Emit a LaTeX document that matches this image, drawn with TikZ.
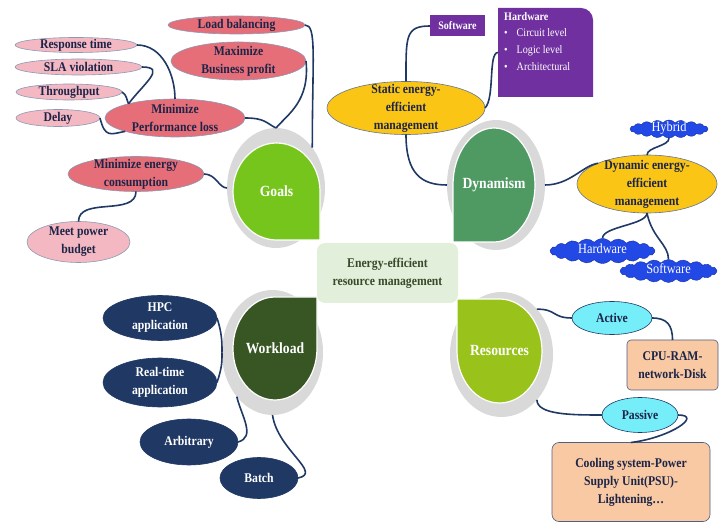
\documentclass[tikz,border=0pt]{standalone}
\usepackage{fontspec}
\setmainfont{Liberation Serif}[FakeStretch=0.88]
\usepackage{xcolor}
\definecolor{cNavy}{HTML}{1F3864}
\definecolor{cInk}{HTML}{1C2448}
\definecolor{cEdge}{HTML}{8A9AB4}
\definecolor{cRose}{HTML}{E66E78}
\definecolor{cPink}{HTML}{F4B8C2}
\definecolor{cYellow}{HTML}{FAC515}
\definecolor{cPurple}{HTML}{7030A0}
\definecolor{cBlue}{HTML}{2248E6}
\definecolor{cCyan}{HTML}{75EEFA}
\definecolor{cTan}{HTML}{F8C9A2}
\definecolor{cHalo}{HTML}{D9D9D9}
\definecolor{cCore}{HTML}{E2EFDA}
\definecolor{cCoreText}{HTML}{3A4A2C}
\definecolor{cGoals}{HTML}{75C51C}
\definecolor{cDyn}{HTML}{4F9A63}
\definecolor{cWork}{HTML}{375623}
\definecolor{cRes}{HTML}{99C31A}
\usepackage{tikz}
\usetikzlibrary{positioning,calc,shapes.geometric,shapes.symbols,backgrounds}
\tikzset{
  node-core/.style={rectangle,rounded corners=8pt,fill=cCore,text=cCoreText,
    inner sep=0pt,align=center,font=\fontsize{13.3}{18}\selectfont\bfseries},
  node-petal/.style={rectangle,inner sep=0pt,outer sep=0pt,text=white,
    font=\fontsize{15.5}{17}\selectfont\bfseries},
  node-halo/.style={ellipse,fill=cHalo,inner sep=0pt,outer sep=0pt},
  petal/.style={draw=white,line width=1.2pt},
  node-oval/.style={ellipse,inner xsep=-7pt,inner ysep=-7pt,outer sep=0pt,
    align=center,text=cInk,line width=0.6pt,
    font=\fontsize{13.3}{18}\selectfont\bfseries},
  node-goal/.style={node-oval,draw=cEdge,fill=cRose},
  node-goal-sub/.style={node-oval,draw=cEdge,fill=cPink},
  node-dyn/.style={node-oval,draw=cNavy!70,fill=cYellow},
  node-work/.style={node-oval,draw=cNavy,fill=cNavy,text=white},
  node-res/.style={node-oval,draw=cNavy,fill=cCyan},
  node-box/.style={rectangle,inner sep=0pt,outer sep=0pt,align=center,
    text=cInk,font=\fontsize{13.3}{18}\selectfont\bfseries},
  node-tan/.style={node-box,draw=cNavy!80,line width=0.6pt,fill=cTan,
    rounded corners=4pt},
  node-purple/.style={node-box,fill=cPurple,text=white,
    font=\fontsize{11.4}{12}\selectfont\bfseries},
  node-cloud/.style={cloud,cloud puffs=20,cloud puff arc=100,cloud ignores aspect,
    fill=cBlue,draw=cBlue!70!black,line width=0.4pt,inner sep=0pt,text=white,
    text height=7pt,text depth=1pt,font=\fontsize{14}{14}\selectfont},
  link/.style={line width=1.6pt,draw=cNavy},
}

\begin{document}
\begin{tikzpicture}[x=1pt,y=1pt]
  \useasboundingbox (0,0) rectangle (720,525);
  \node[node-core,minimum width=141pt,minimum height=60pt] (core) at (387.5,252)
    {Energy-efficient\\resource management};

  % petals
  \node[node-petal,minimum width=87pt,minimum height=97pt] (goals) at (276.5,333.5) {Goals};
  \node[node-petal,minimum width=82pt,minimum height=114pt] (dyn) at (494,340) {Dynamism};
  \node[node-petal,minimum width=84pt,minimum height=103pt] (work) at (275,176.5) {Workload};
  \node[node-petal,minimum width=85pt,minimum height=104pt] (res) at (499.5,174) {Resources};
  \begin{scope}[on background layer]
    \node[node-halo,minimum width=98pt,minimum height=120pt] (hgoals) at (276,337) {};
    \node[node-halo,minimum width=98pt,minimum height=130pt] (hdyn) at (496,340) {};
    \node[node-halo,minimum width=101pt,minimum height=125pt] (hwork) at (272.5,172.5) {};
    \node[node-halo,minimum width=103pt,minimum height=125pt] (hres) at (501.5,170.5) {};
    \filldraw[petal,fill=cGoals] (goals.east) arc[start angle=0,end angle=270,x radius=43.5pt,y radius=48.5pt]
      -- (goals.east |- goals.south) -- cycle;
    \filldraw[petal,fill=cDyn] (dyn.south) arc[start angle=270,end angle=540,x radius=41pt,y radius=57pt]
      -- (dyn.west |- dyn.south) -- cycle;
    \filldraw[petal,fill=cWork] (work.north) arc[start angle=90,end angle=360,x radius=42pt,y radius=51.5pt]
      -- (work.east |- work.north) -- cycle;
    \filldraw[petal,fill=cRes] (res.west) arc[start angle=180,end angle=450,x radius=42.5pt,y radius=52pt]
      -- (res.west |- res.north) -- cycle;
  \end{scope}

  % goals
  \node[node-goal,minimum width=137pt,minimum height=18pt] (load) at (236.5,500) {Load balancing};
  \node[node-goal,minimum width=135pt,minimum height=38pt] (profit) at (238.5,464) {Maximize\\Business profit};
  \node[node-goal-sub,minimum width=122pt,minimum height=15pt] (resp) at (76,480) {Response time};
  \node[node-goal-sub,minimum width=127pt,minimum height=16pt] (sla) at (78.5,458) {SLA violation};
  \node[node-goal-sub,minimum width=106pt,minimum height=16pt] (thru) at (69,433) {Throughput};
  \node[node-goal-sub,minimum width=84pt,minimum height=17pt] (delay) at (58,407) {Delay};
  \node[node-goal,minimum width=140pt,minimum height=38pt] (perf) at (175,407) {Minimize\\Performance loss};
  \node[node-goal,minimum width=136pt,minimum height=35pt] (energy) at (136,351) {Minimize energy\\consumption};
  \node[node-goal-sub,minimum width=103pt,minimum height=41pt] (power) at (78.5,283) {Meet power\\budget};

  % dynamism
  \node[node-dyn,minimum width=158pt,minimum height=53pt] (static) at (406,417) {Static energy-\\efficient\\management};
  \node[node-purple,minimum width=55pt,minimum height=21pt] (soft) at (457.5,499) {Software};
  \node[node-box,minimum width=95pt,minimum height=89pt] (hw) at (545.5,472.5) {};
  \fill[cPurple] (hw.south west) -- (hw.north west) -- ($(hw.north east)+(-12,0)$)
    arc[start angle=90,end angle=0,radius=12pt] -- (hw.south east) -- cycle;
  \node[anchor=north west,align=left,text=white,inner sep=0pt,
    font=\fontsize{11.5}{16.7}\selectfont] (hwtext) at ($(hw.north west)+(6,-4)$)
    {{\bfseries Hardware}\\
     \textbullet\hspace{9pt}Circuit level\\
     \textbullet\hspace{9pt}Logic level\\
     \textbullet\hspace{9pt}Architectural};
  \node[node-dyn,minimum width=140pt,minimum height=58pt] (dynamic) at (647,341) {Dynamic energy-\\efficient\\management};
  \node[node-cloud,minimum width=78pt,minimum height=18pt] (hybrid) at (669,396) {Hybrid};
  \node[node-cloud,minimum width=105pt,minimum height=25pt] (hwcloud) at (602.5,274) {Hardware};
  \node[node-cloud,minimum width=97pt,minimum height=23pt] (swcloud) at (668.5,254) {Software};

  % workload
  \node[node-work,minimum width=114pt,minimum height=45pt] (hpc) at (160,207) {HPC\\application};
  \node[node-work,minimum width=114pt,minimum height=49pt] (realtime) at (160,142.5) {Real-time\\application};
  \node[node-work,minimum width=98pt,minimum height=46pt] (arbitrary) at (189,83) {Arbitrary};
  \node[node-work,minimum width=78pt,minimum height=41pt] (batch) at (259,47) {Batch};

  % resources
  \node[node-res,minimum width=80pt,minimum height=33pt] (active) at (612,207) {Active};
  \node[node-tan,minimum width=91pt,minimum height=50pt] (cpu) at (672.5,160) {CPU-RAM-\\network-Disk};
  \node[node-res,minimum width=76pt,minimum height=35pt] (passive) at (640,110) {Passive};
  \node[node-tan,minimum width=158pt,minimum height=79pt,rounded corners=7pt] (cooling) at (631,43)
    {Cooling system-Power\\Supply Unit(PSU)-\\Lightening…};

  % links
  \draw[link] (load.east) .. controls +(12,0) and +(0,90) .. (hgoals.48);
  \draw[link] (profit.east) .. controls +(4,-40) and +(12,14) .. (hgoals.north);
  \draw[link] (perf.east) .. controls +(20,0) and +(-10,5) .. (hgoals.north);
  \draw[link] (resp.east) .. controls +(25,0) and +(0,25) .. (perf.north);
  \draw[link] (sla.east) .. controls +(25,0) and +(15,20) .. (perf.163);
  \draw[link] (thru.east) .. controls +(5,-3) and +(-2,4) .. (perf.163);
  \draw[link] (delay.east) .. controls +(5,-20) and +(-15,-3) .. (perf.195);
  \draw[link] (energy.east) .. controls +(12,0) and +(-8,0) .. (hgoals.west);
  \draw[link] (energy.south) .. controls +(0,-25) and +(0,25) .. (power.north);

  \draw[link] (static.north) .. controls +(0,45) and +(-25,0) .. (soft.west);
  \draw[link] (static.east) .. controls +(10,10) and +(-10,0) .. (hw.west);
  \draw[link] (static.south) .. controls +(0,-40) and +(-25,0) .. (hdyn.west);
  \draw[link] (hdyn.east) .. controls +(25,0) and +(-15,-2) .. (dynamic.157);
  \draw[link] (dynamic.north) .. controls +(0,8) and +(0,-8) .. (hybrid.south);
  \draw[link] (dynamic.south) .. controls +(0,-12) and +(0,12) .. (hwcloud.north);
  \draw[link] (dynamic.south) .. controls +(5,-25) and +(0,15) .. (swcloud.north);

  \draw[link] (hpc.east) .. controls +(5,-15) and +(0,10) .. (hwork.west);
  \draw[link] (realtime.east) .. controls +(5,15) and +(0,-10) .. (hwork.west);
  \draw[link] (hwork.231) .. controls +(5,-20) and +(18,5) .. (arbitrary.east);
  \draw[link] (hwork.south) .. controls +(5,-35) and +(25,5) .. (batch.east);

  \draw[link] (hres.52) .. controls +(20,0) and +(-20,0) .. (active.west);
  \draw[link] (active.east) .. controls +(15,0) and +(0,15) .. (cpu.north);
  \draw[link] (hres.308) .. controls +(0,-15) and +(-30,0) .. (passive.west);
  \draw[link] (passive.east) .. controls +(25,0) and +(40,5) .. (cooling.north);
\end{tikzpicture}
\end{document}
